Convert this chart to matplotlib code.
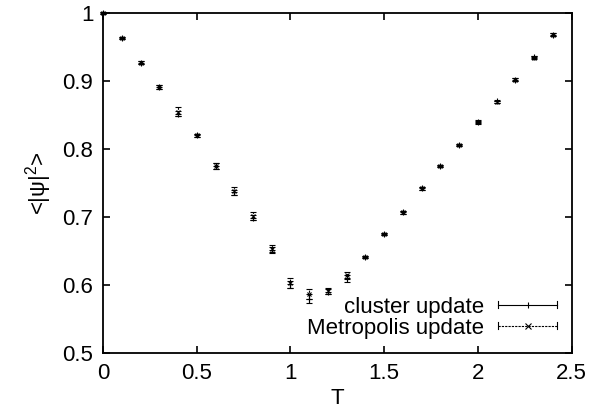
import matplotlib
matplotlib.use("Agg")
import matplotlib.pyplot as plt
from matplotlib.legend_handler import HandlerBase
from matplotlib.lines import Line2D

plt.rcParams['font.family'] = ['Liberation Sans', 'DejaVu Sans']
plt.rcParams['mathtext.fontset'] = 'custom'
plt.rcParams['mathtext.rm'] = 'Liberation Sans'
plt.rcParams['mathtext.it'] = 'Liberation Sans'
plt.rcParams['mathtext.default'] = 'rm'

# temperature grid
T = [0.0, 0.1, 0.2, 0.3, 0.4, 0.5, 0.6, 0.7, 0.8, 0.9, 1.0, 1.1, 1.2,
     1.3, 1.4, 1.5, 1.6, 1.7, 1.8, 1.9, 2.0, 2.1, 2.2, 2.3, 2.4]

# <|psi|^2> from cluster updates
cluster = [1.000, 0.963, 0.927, 0.891, 0.852, 0.820, 0.775, 0.736, 0.699,
           0.652, 0.601, 0.580, 0.590, 0.610, 0.641, 0.675, 0.707, 0.742,
           0.775, 0.806, 0.839, 0.870, 0.902, 0.935, 0.968]
cluster_err = [0.001, 0.002, 0.002, 0.003, 0.004, 0.002, 0.004, 0.004, 0.004,
               0.004, 0.005, 0.006, 0.004, 0.005, 0.002, 0.002, 0.002, 0.002,
               0.002, 0.002, 0.002, 0.002, 0.002, 0.002, 0.002]

# <|psi|^2> from Metropolis updates
metropolis = [1.000, 0.963, 0.927, 0.891, 0.855, 0.820, 0.775, 0.738, 0.701,
              0.653, 0.603, 0.587, 0.591, 0.614, 0.641, 0.675, 0.707, 0.742,
              0.775, 0.806, 0.840, 0.869, 0.902, 0.934, 0.968]
metropolis_err = [0.001, 0.002, 0.002, 0.003, 0.006, 0.002, 0.004, 0.006, 0.006,
                  0.006, 0.007, 0.007, 0.004, 0.005, 0.002, 0.002, 0.002, 0.002,
                  0.002, 0.002, 0.002, 0.002, 0.002, 0.002, 0.002]

xticks = [0, 0.5, 1, 1.5, 2, 2.5]
yticks = [0.5, 0.6, 0.7, 0.8, 0.9, 1.0]
ytick_labels = ['0.5', '0.6', '0.7', '0.8', '0.9', '1']


class ErrorbarKey(HandlerBase):
    """Horizontal key line with end caps and a centre marker."""

    def __init__(self, ls, marker):
        super().__init__()
        self.ls = ls
        self.marker = marker

    def create_artists(self, legend, orig_handle, xdescent, ydescent,
                       width, height, fontsize, trans):
        y = height / 2 - ydescent
        x0, x1 = -xdescent, width - xdescent
        cap = 2.5
        arts = [
            Line2D([x0, x1], [y, y], color='k', lw=0.8, ls=self.ls),
            Line2D([x0, x0], [y - cap, y + cap], color='k', lw=0.8),
            Line2D([x1, x1], [y - cap, y + cap], color='k', lw=0.8),
            Line2D([(x0 + x1) / 2], [y], color='k', marker=self.marker,
                   ms=4, mew=0.8, ls='none'),
        ]
        for a in arts:
            a.set_transform(trans)
        return arts


fig = plt.figure(figsize=(6.10, 4.17), dpi=100)
ax = fig.add_axes([0.169, 0.1535, 0.768, 0.8155])

eb1 = ax.errorbar(T, cluster, yerr=cluster_err, fmt='+', color='k', ms=4,
                  mew=0.8, elinewidth=0.8, capsize=2, capthick=0.8)
eb2 = ax.errorbar(T, metropolis, yerr=metropolis_err, fmt='x', color='k',
                  ms=3.5, mew=0.8, elinewidth=0.8, capsize=2, capthick=0.8)
for lc in eb2[2]:
    lc.set_linestyle((0, (2, 1)))
for eb in (eb1, eb2):
    for art in [eb[0], *eb[1], *eb[2]]:
        art.set_clip_on(False)

ax.set_xlim(0, 2.5)
ax.set_ylim(0.5, 1.0)
ax.set_xticks(xticks)
ax.set_xticklabels([f'{v:g}' for v in xticks])
ax.set_yticks(yticks)
ax.set_yticklabels(ytick_labels)
ax.tick_params(direction='in', length=5, width=1.2, top=True, right=True,
               labelsize=16, pad=7)
for s in ax.spines.values():
    s.set_linewidth(1.3)

ax.set_xlabel('T', fontsize=16, labelpad=3)
ax.set_ylabel(r'<|ψ|$^2$>', fontsize=16, labelpad=6)

h1 = Line2D([], [], color='k')
h2 = Line2D([], [], color='k')
ax.legend([h1, h2], ['cluster update', 'Metropolis update'],
          handler_map={h1: ErrorbarKey('-', '|'), h2: ErrorbarKey((0, (2, 1)), 'x')},
          loc='lower right', frameon=False, fontsize=16, markerfirst=False,
          handlelength=2.65, handletextpad=0.63, labelspacing=0.0,
          borderaxespad=0.35, borderpad=0.3)

fig.savefig('out.png', dpi=100)
